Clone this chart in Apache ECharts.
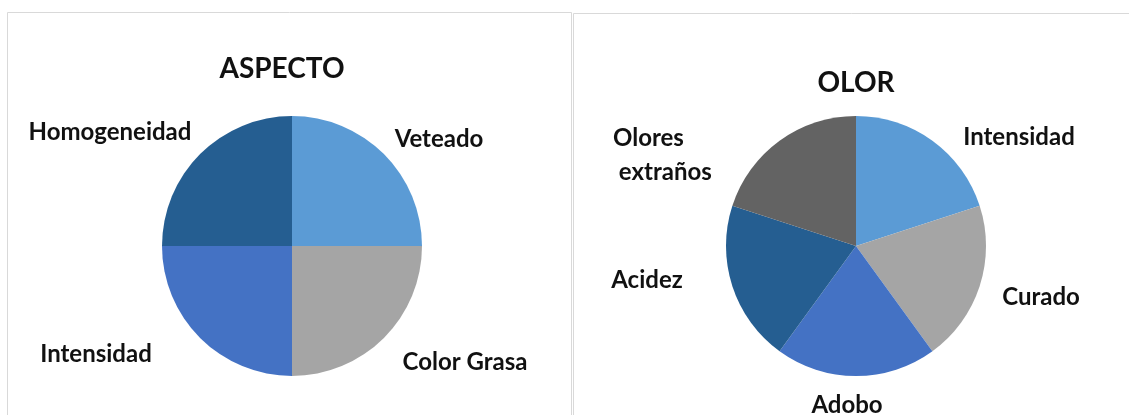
<!DOCTYPE html>
<html>
<head>
<meta charset="utf-8">
<script src="https://cdn.jsdelivr.net/npm/echarts@6/dist/echarts.min.js"></script>
<style>
html,body{margin:0;padding:0;background:#fff;}
#c{width:1129px;height:415px;}
</style>
</head>
<body>
<div id="c"></div>
<script>
// ---- data ----
const aspectoCategories = ['Veteado', 'Color Grasa', 'Intensidad', 'Homogeneidad'];
const aspectoValues = [25, 25, 25, 25];
const olorCategories = ['Intensidad', 'Curado', 'Adobo', 'Acidez', 'Olores extraños'];
const olorValues = [20, 20, 20, 20, 20];

// ---- style ----
const aspectoColors = ['#5b9bd5', '#a5a5a5', '#4472c4', '#255e91'];
const olorColors = ['#5b9bd5', '#a5a5a5', '#4472c4', '#255e91', '#636363'];
const aspectoLabelPos = [[439, 139, 'center'], [465, 362, 'center'], [96, 354, 'center'], [110, 132, 'center']];
const olorLabelPos = [[1019, 137, 'center'], [1041, 297, 'center'], [847, 405, 'center'], [647, 280, 'center'], [613, 155, 'left']];
const FONT = 'Lato';

const chart = echarts.init(document.getElementById('c'), null, {renderer: 'canvas'});

function mkData(cats, vals, colors) {
  return cats.map((c, i) => ({name: c, value: vals[i], itemStyle: {color: colors[i]}}));
}
function mkLayout(pos) {
  return function (p) {
    const q = pos[p.dataIndex];
    return {x: q[0], y: q[1], align: q[2], verticalAlign: 'middle'};
  };
}
const labelStyle = {
  show: true,
  position: 'outside',
  overflow: 'none',
  color: '#111',
  fontFamily: FONT,
  fontWeight: 'bold',
  fontSize: 24,
  lineHeight: 34,
  formatter: p => p.name === 'Olores extraños' ? 'Olores\n extraños' : p.name
};

chart.setOption({
  animation: false,
  backgroundColor: '#ffffff',
  graphic: [
    {type: 'rect', shape: {x: 7.5, y: 12.5, width: 564, height: 420}, style: {fill: 'none', stroke: '#d9d9d9', lineWidth: 1}, silent: true},
    {type: 'rect', shape: {x: 573.5, y: 13.5, width: 570, height: 420}, style: {fill: 'none', stroke: '#d9d9d9', lineWidth: 1}, silent: true}
  ],
  title: [
    {text: 'ASPECTO', left: 277, top: 50, textAlign: 'center',
     textStyle: {fontFamily: FONT, fontWeight: 'bold', fontSize: 28, color: '#111'}},
    {text: 'OLOR', left: 851, top: 64, textAlign: 'center',
     textStyle: {fontFamily: FONT, fontWeight: 'bold', fontSize: 28, color: '#111'}}
  ],
  series: [
    {
      type: 'pie', center: [292, 246], radius: 130, startAngle: 90, clockwise: true,
      data: mkData(aspectoCategories, aspectoValues, aspectoColors),
      label: labelStyle, labelLine: {show: false},
      labelLayout: mkLayout(aspectoLabelPos),
      emphasis: {disabled: true}
    },
    {
      type: 'pie', center: [856, 246], radius: 130, startAngle: 90, clockwise: true,
      data: mkData(olorCategories, olorValues, olorColors),
      label: labelStyle, labelLine: {show: false},
      labelLayout: mkLayout(olorLabelPos),
      emphasis: {disabled: true}
    }
  ]
});
</script>
</body>
</html>
